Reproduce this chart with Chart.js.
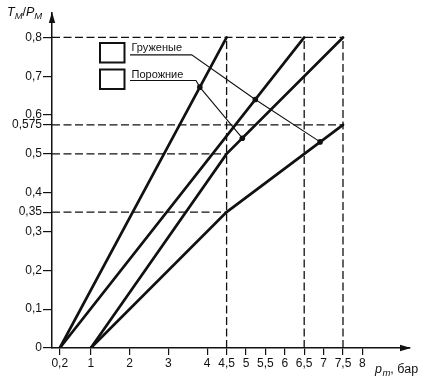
<!DOCTYPE html>
<html><head><meta charset="utf-8">
<script src="https://cdn.jsdelivr.net/npm/chart.js@4/dist/chart.umd.min.js"></script>
<style>html,body{margin:0;padding:0;background:#fff;}canvas{display:block;}</style>
</head><body>
<canvas id="c" width="426" height="380"></canvas>
<script>
// ---- tick labels ----
const xTickValues = [0.2, 1, 2, 3, 4, 4.5, 5, 5.5, 6, 6.5, 7, 7.5, 8];
const yTickValues = [0, 0.1, 0.2, 0.3, 0.35, 0.4, 0.5, 0.575, 0.6, 0.7, 0.8];

// ---- characteristics (thick lines) ----
const lineA_x = [0.2, 4.5];      const lineA_y = [0, 0.8];
const lineB_x = [0.2, 6.5];      const lineB_y = [0, 0.8];
const lineC_x = [1, 4.5, 7.5];   const lineC_y = [0, 0.5, 0.8];
const lineD_x = [1, 4.5, 7.5];   const lineD_y = [0, 0.35, 0.575];

// ---- dashed construction lines ----
const refH_y    = [0.8, 0.575, 0.5, 0.35];
const refH_xEnd = [7.5, 7.5, 4.5, 4.5];
const refV_x    = [4.5, 6.5, 7.5];
const refV_yEnd = [0.8, 0.8, 0.8];

// ---- legend + leader lines ----
const legendLabels = ['Груженые', 'Порожние'];
const leaderLoaded_x = [2.01, 3.60, 5.24, 6.91];
const leaderLoaded_y = [0.755, 0.755, 0.64, 0.531];
const leaderEmpty_x  = [2.01, 3.71, 3.81, 4.905];
const leaderEmpty_y  = [0.689, 0.689, 0.672, 0.5405];
const dots_x = [5.24, 6.91, 3.81, 4.905];
const dots_y = [0.64, 0.531, 0.672, 0.5405];

const FONT = '"Liberation Sans", Arial, Helvetica, sans-serif';
const INK = '#111111';
const zip = (xs, ys) => xs.map((x, i) => ({x: x, y: ys[i]}));
const fmt = v => String(+v.toFixed(3)).replace('.', ',');

const datasets = [];
refH_y.forEach((y, i) => datasets.push({data: [{x: 0, y: y}, {x: refH_xEnd[i], y: y}], borderColor: INK, borderWidth: 1.3, borderDash: [8, 3.5], pointRadius: 0, showLine: true}));
refV_x.forEach((x, i) => datasets.push({data: [{x: x, y: 0}, {x: x, y: refV_yEnd[i]}], borderColor: INK, borderWidth: 1.3, borderDash: [8, 3.5], pointRadius: 0, showLine: true}));
[[lineA_x, lineA_y], [lineB_x, lineB_y], [lineC_x, lineC_y], [lineD_x, lineD_y]].forEach(([xs, ys]) =>
  datasets.push({data: zip(xs, ys), borderColor: INK, borderWidth: 2.7, pointRadius: 0, showLine: true, borderCapStyle: 'round'}));
[[leaderLoaded_x, leaderLoaded_y], [leaderEmpty_x, leaderEmpty_y]].forEach(([xs, ys]) =>
  datasets.push({data: zip(xs, ys), borderColor: INK, borderWidth: 1.1, pointRadius: 0, showLine: true}));
datasets.push({data: zip(dots_x, dots_y), showLine: false, pointRadius: 2.8, pointBackgroundColor: INK, pointBorderWidth: 0, borderColor: INK});

function drawRich(ctx, parts, x, y) {
  parts.forEach(p => {
    ctx.font = p.font;
    ctx.fillText(p.t, x, y + (p.dy || 0));
    x += ctx.measureText(p.t).width + (p.gap || 0);
  });
}

const decor = {
  id: 'decor',
  afterDraw(chart) {
    const {ctx, chartArea: a} = chart;
    ctx.save();
    ctx.fillStyle = INK; ctx.strokeStyle = INK;
    // axis arrows
    ctx.beginPath(); ctx.moveTo(a.right + 1, a.bottom); ctx.lineTo(a.right - 10, a.bottom - 3.2); ctx.lineTo(a.right - 10, a.bottom + 3.2); ctx.closePath(); ctx.fill();
    ctx.beginPath(); ctx.moveTo(a.left, a.top - 1); ctx.lineTo(a.left - 3.2, a.top + 10); ctx.lineTo(a.left + 3.2, a.top + 10); ctx.closePath(); ctx.fill();
    // axis titles
    ctx.textBaseline = 'alphabetic'; ctx.textAlign = 'left';
    const it = 'italic 12.5px ' + FONT, sub = 'italic 9.5px ' + FONT, up = '12.5px ' + FONT;
    drawRich(ctx, [{t: 'T', font: it}, {t: 'M', font: sub, dy: 3}, {t: '/', font: up}, {t: 'P', font: it}, {t: 'M', font: sub, dy: 3}], a.left - 45, a.top + 3);
    drawRich(ctx, [{t: 'p', font: it, gap: 0.5}, {t: 'm', font: sub, dy: 3}, {t: ', бар', font: up}], a.left + 323, a.bottom + 25);
    // legend
    ctx.lineWidth = 2;
    ctx.font = '11px ' + FONT; ctx.textBaseline = 'middle';
    const tops = [30, 56.5];
    legendLabels.forEach((lab, i) => {
      ctx.fillStyle = '#fff';
      ctx.fillRect(a.left + 48, a.top + tops[i], 24.5, 19.5);
      ctx.strokeRect(a.left + 48, a.top + tops[i], 24.5, 19.5);
      ctx.fillStyle = INK;
      ctx.fillText(lab, a.left + 79.5, a.top + tops[i] + 5);
    });
    ctx.restore();
  }
};

new Chart(document.getElementById('c'), {
  type: 'scatter',
  data: {datasets: datasets},
  options: {
    responsive: false, animation: false, devicePixelRatio: 1,
    layout: {padding: {top: 13, right: 16, left: 0, bottom: 0}},
    plugins: {legend: {display: false}, tooltip: {enabled: false}},
    elements: {line: {tension: 0}},
    scales: {
      x: {
        type: 'linear', min: 0, max: 9.227,
        border: {display: true, color: INK, width: 1.5},
        grid: {drawOnChartArea: false, drawTicks: true, tickLength: 7, color: INK, lineWidth: 1.2},
        ticks: {autoSkip: false, maxRotation: 0, padding: 1, color: INK, font: {family: FONT, size: 12}, callback: v => fmt(v)},
        afterBuildTicks: s => { s.ticks = xTickValues.map(v => ({value: v})); },
        afterFit: s => { s.height = 32; }
      },
      y: {
        type: 'linear', min: 0, max: 0.863,
        border: {display: true, color: INK, width: 1.5},
        grid: {drawOnChartArea: false, drawTicks: true, tickLength: 9, color: INK, lineWidth: 1.2},
        ticks: {autoSkip: false, padding: 1, color: INK, font: {family: FONT, size: 12}, callback: v => fmt(v)},
        afterBuildTicks: s => { s.ticks = yTickValues.map(v => ({value: v})); },
        afterFit: s => { s.width = 52; }
      }
    }
  },
  plugins: [decor]
});
</script>
</body></html>
